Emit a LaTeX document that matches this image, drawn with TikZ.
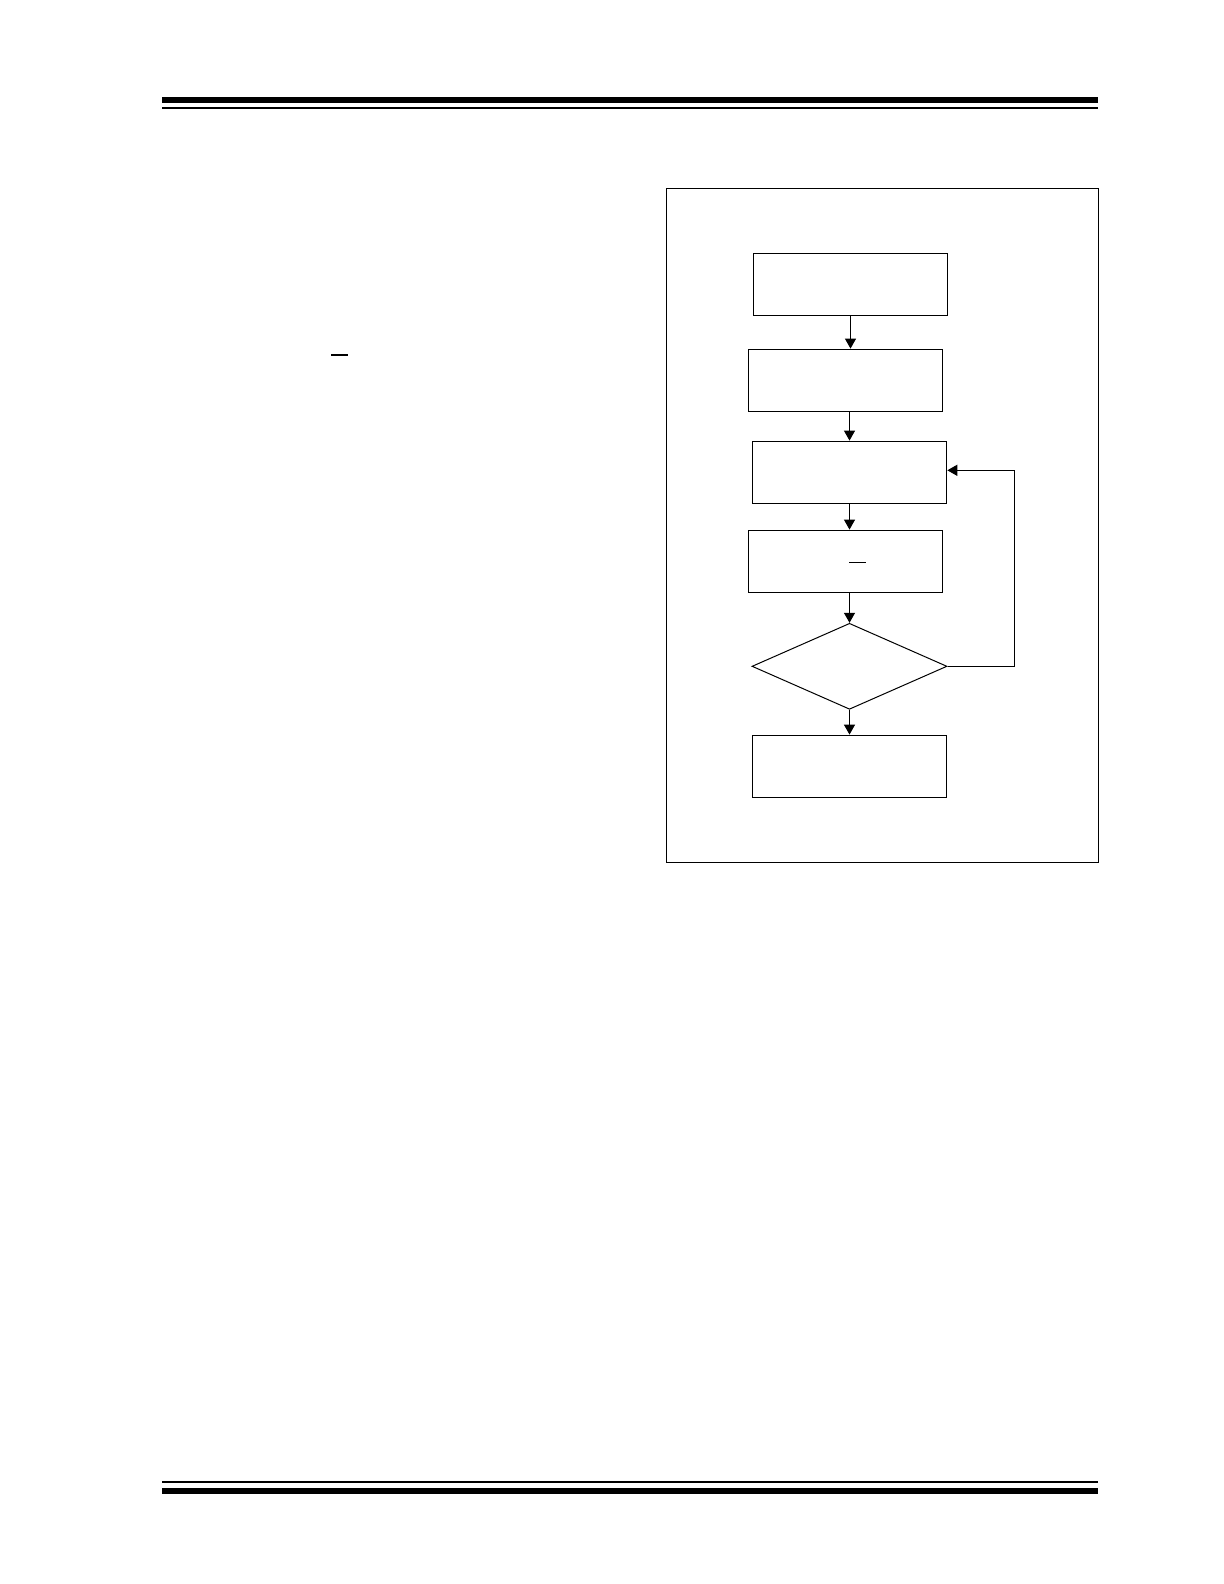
\documentclass[tikz,border=0pt]{standalone}
\usetikzlibrary{arrows.meta,shapes.geometric}
\begin{document}
\begin{tikzpicture}[x=0.5bp, y=-0.5bp, >={Triangle[length=5bp,width=5.5bp]},
    stepbox/.style={draw, line width=0.6bp, minimum width=97.2bp, minimum height=31.1bp, inner sep=0pt},
    testbox/.style={draw, diamond, line width=0.5bp, minimum width=97.5bp, minimum height=43bp, inner sep=0pt},
    flow/.style={->, line width=0.6bp}]

    %% Background
    \draw[draw=none] (0,0) rectangle (1224,1584);

    %% Page rules
    \draw[line width=3bp] (162,100) to (1098,100);
    \draw[line width=1bp] (162,108) to (1098,108);
    \draw[line width=1bp] (162,1482) to (1098,1482);
    \draw[line width=3bp] (162,1491) to (1098,1491);

    %% Overbar in the body text
    \draw[line width=1bp] (331,355) to (347.7,355);

    %% Figure frame
    \draw[line width=0.5bp] (666,188) rectangle (1098,862);

    %% Flow chart
    \node[stepbox] (start) at (850.5,284.2) {};
    \node[stepbox] (setup) at (845.5,380.3) {};
    \node[stepbox] (load)  at (849.5,472.3) {};
    \node[stepbox] (pulse) at (845.5,561.3) {};
    \node[testbox] (check) at (849.5,666.3) {};
    \node[stepbox] (done)  at (849.5,766.3) {};

    \draw[line width=0.5bp] (849,562) to (865.7,562);

    \draw[flow] (start) -- (start |- setup.north);
    \draw[flow] (load |- setup.south) -- (load);
    \draw[flow] (load) -- (load |- pulse.north);
    \draw[flow] (check |- pulse.south) -- (check);
    \draw[flow] (check) -- (done);
    \draw[flow] (check.east) -- ++(66.6,0) |- ([yshift=1bp]load.east);

\end{tikzpicture}
\end{document}
